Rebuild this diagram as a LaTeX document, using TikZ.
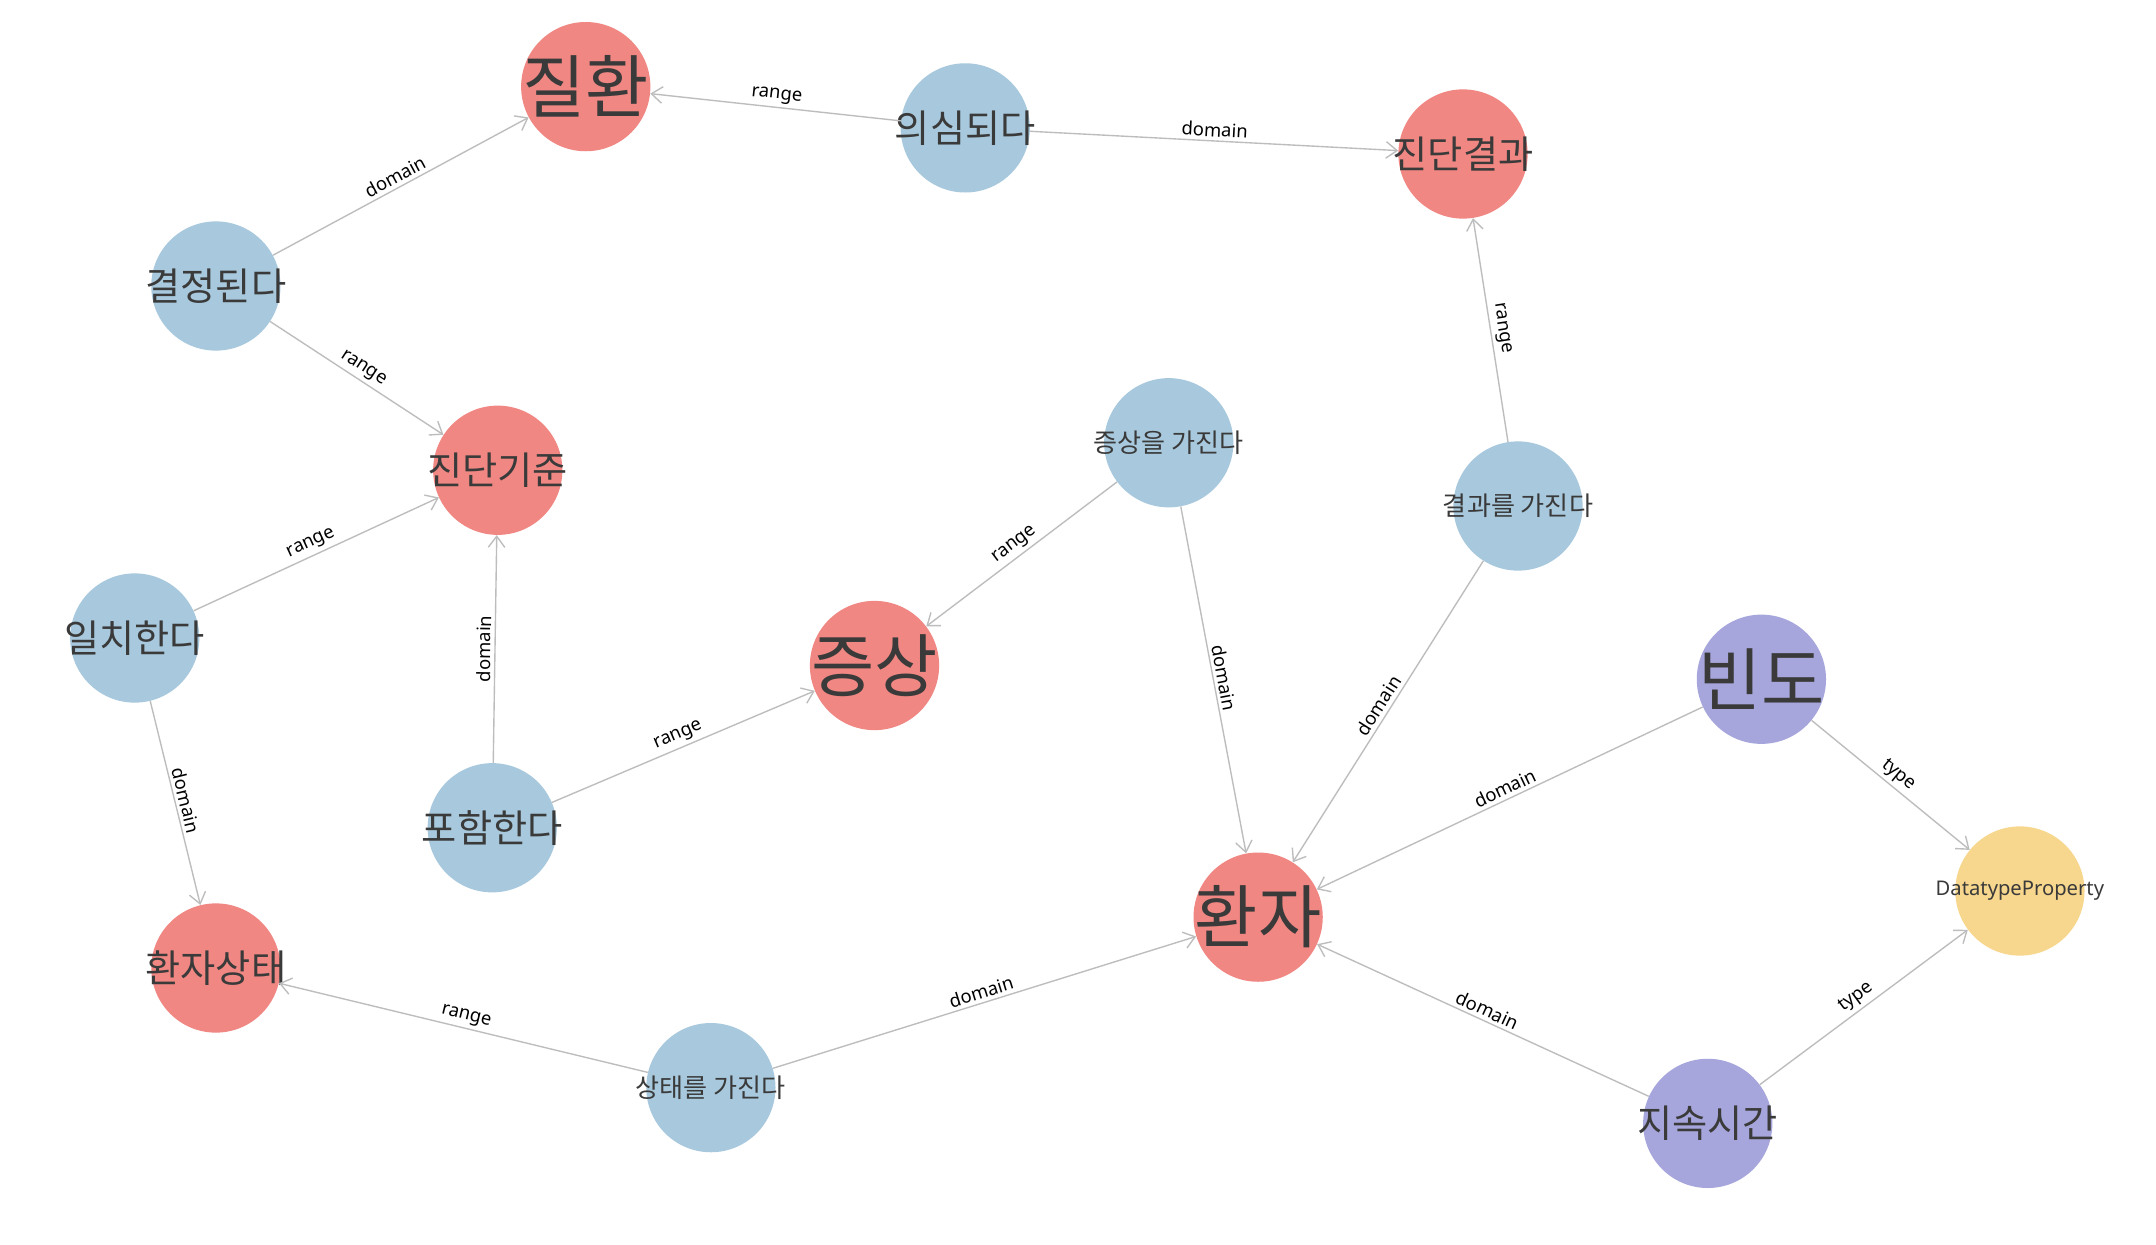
\documentclass[tikz,border=0pt]{standalone}
\usepackage{fontspec}
\setmainfont{Noto Sans}
\newfontfamily\krfont{Noto Sans CJK KR}
\usetikzlibrary{arrows.meta}
\definecolor{cred}{HTML}{F08783}
\definecolor{cblue}{HTML}{A8C9DD}
\definecolor{cpurple}{HTML}{A6A6DC}
\definecolor{cyellow}{HTML}{F7D78E}
\definecolor{ctext}{HTML}{3A3A3A}
\definecolor{cedge}{HTML}{BDBDBD}
\tikzset{
  ent/.style={circle, minimum size=94pt, inner sep=0pt, draw=none},
  redn/.style={ent, fill=cred},
  bluen/.style={ent, fill=cblue},
  purn/.style={ent, fill=cpurple},
  yeln/.style={ent, fill=cyellow},
  bigt/.style={font=\krfont\fontsize{50}{54}\selectfont, text=ctext, inner sep=0pt},
  midt/.style={font=\krfont\fontsize{27.8}{31}\selectfont, text=ctext, inner sep=0pt},
  smallt/.style={font=\krfont\fontsize{19}{22}\selectfont, text=ctext, inner sep=0pt},
  latt/.style={font=\fontsize{14.7}{17}\selectfont, text=ctext, inner sep=0pt},
  rel/.style={draw=cedge, line width=1pt, -{Straight Barb[length=8pt,width=12pt,line width=1pt]}},
  elab/.style={font=\fontsize{13.4}{15}\selectfont, text=black, midway, sloped, above=1.5pt, inner sep=1pt}
}
\begin{document}
\begin{tikzpicture}[x=1pt,y=-1pt]
\fill[white] (0,0) rectangle (1568,905);
\useasboundingbox (0,0) rectangle (1568,905);

\node[redn, label={[bigt]center:질환}] (jh) at (426,63) {};
\node[bluen, label={[midt]center:의심되다}] (us) at (702,93) {};
\node[redn, label={[midt]center:진단결과}] (jg) at (1064,112) {};
\node[bluen, label={[midt]center:결정된다}] (gj) at (157,208) {};
\node[redn, label={[midt]center:진단기준}] (jk) at (362,342) {};
\node[bluen, label={[smallt]center:증상을 가진다}] (sg) at (850,322) {};
\node[bluen, label={[smallt]center:결과를 가진다}] (rg) at (1104,368) {};
\node[bluen, label={[midt]center:일치한다}] (il) at (98,464) {};
\node[redn, label={[bigt]center:증상}] (ss) at (636,484) {};
\node[purn, label={[bigt]center:빈도}] (bd) at (1281,494) {};
\node[bluen, label={[midt]center:포함한다}] (ph) at (358,602) {};
\node[redn, label={[bigt]center:환자}] (hj) at (915,667) {};
\node[yeln, label={[latt]center:DatatypeProperty}] (dp) at (1469,648) {};
\node[redn, label={[midt]center:환자상태}] (hs) at (157,704) {};
\node[bluen, label={[smallt]center:상태를 가진다}] (st) at (517,791) {};
\node[purn, label={[midt]center:지속시간}] (js) at (1242,817) {};

\draw[rel] (us) -- node[elab] {range} (jh);
\draw[rel] (us) -- node[elab] {domain} (jg);
\draw[rel] (gj) -- node[elab] {domain} (jh);
\draw[rel] (gj) -- node[elab] {range} (jk);
\draw[rel] (rg) -- node[elab] {range} (jg);
\draw[rel] (sg) -- node[elab] {range} (ss);
\draw[rel] (sg) -- node[elab] {domain} (hj);
\draw[rel] (rg) -- node[elab] {domain} (hj);
\draw[rel] (il) -- node[elab] {range} (jk);
\draw[rel] (il) -- node[elab] {domain} (hs);
\draw[rel] (ph) -- node[elab] {domain} (jk);
\draw[rel] (ph) -- node[elab] {range} (ss);
\draw[rel] (bd) -- node[elab] {domain} (hj);
\draw[rel] (bd) -- node[elab] {type} (dp);
\draw[rel] (js) -- node[elab] {domain} (hj);
\draw[rel] (js) -- node[elab] {type} (dp);
\draw[rel] (st) -- node[elab] {range} (hs);
\draw[rel] (st) -- node[elab] {domain} (hj);
\end{tikzpicture}
\end{document}
